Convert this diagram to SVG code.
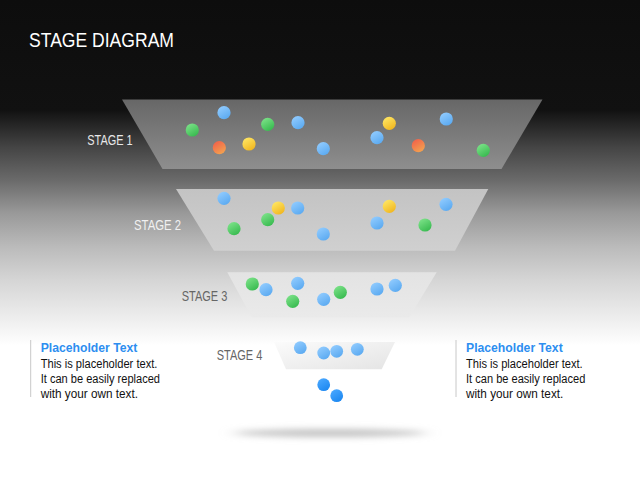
<svg xmlns="http://www.w3.org/2000/svg" width="640" height="480" viewBox="0 0 640 480">
<defs>
<linearGradient id="bg" x1="0" y1="0" x2="0" y2="480" gradientUnits="userSpaceOnUse">
<stop offset="0" stop-color="#0d0d0d"/>
<stop offset="0.229" stop-color="#111111"/>
<stop offset="0.306" stop-color="#444444"/>
<stop offset="0.375" stop-color="#6a6a6a"/>
<stop offset="0.444" stop-color="#999999"/>
<stop offset="0.515" stop-color="#bbbbbb"/>
<stop offset="0.583" stop-color="#d5d5d5"/>
<stop offset="0.652" stop-color="#eaeaea"/>
<stop offset="0.72" stop-color="#ffffff"/>
<stop offset="1" stop-color="#ffffff"/>
</linearGradient>
<linearGradient id="s1" x1="0" y1="0" x2="0" y2="1"><stop offset="0" stop-color="#676767"/><stop offset="1" stop-color="#8e8e8e"/></linearGradient>
<linearGradient id="s2" x1="0" y1="0" x2="0" y2="1"><stop offset="0" stop-color="#c3c3c3"/><stop offset="1" stop-color="#d0d0d0"/></linearGradient>
<linearGradient id="s3" x1="0" y1="0" x2="0" y2="1"><stop offset="0" stop-color="#e3e3e3"/><stop offset="1" stop-color="#eaeaea"/></linearGradient>
<linearGradient id="s4" x1="0" y1="0" x2="1" y2="1"><stop offset="0" stop-color="#fbfbfb"/><stop offset="1" stop-color="#e4e4e4"/></linearGradient>
<linearGradient id="gb" x1="0.2" y1="0" x2="0.8" y2="1"><stop offset="0" stop-color="#92ccff"/><stop offset="1" stop-color="#58a8f0"/></linearGradient>
<linearGradient id="gg" x1="0.2" y1="0" x2="0.8" y2="1"><stop offset="0" stop-color="#7ee38a"/><stop offset="1" stop-color="#34b84c"/></linearGradient>
<linearGradient id="gy" x1="0.2" y1="0" x2="0.8" y2="1"><stop offset="0" stop-color="#ffe866"/><stop offset="1" stop-color="#f0b41c"/></linearGradient>
<linearGradient id="go" x1="0.2" y1="0" x2="0.8" y2="1"><stop offset="0" stop-color="#f2604a"/><stop offset="1" stop-color="#f2a650"/></linearGradient>
<linearGradient id="gd" x1="0.2" y1="0" x2="0.8" y2="1"><stop offset="0" stop-color="#4aa8ff"/><stop offset="1" stop-color="#1a86f0"/></linearGradient>
<filter id="blur" x="-30%" y="-300%" width="160%" height="700%"><feGaussianBlur stdDeviation="8 3"/></filter>
</defs>
<style>
.lbl{font-family:"Liberation Sans",Arial,sans-serif;font-size:14px}
.ttl{font-family:"Liberation Sans",Arial,sans-serif;font-size:20px;fill:#ffffff}
.hd{font-family:"Liberation Sans",Arial,sans-serif;font-size:13px;font-weight:bold;fill:#2d8ef0}
.bd{font-family:"Liberation Sans",Arial,sans-serif;font-size:12px;fill:#111111}
.b{fill:url(#gb)}
.g{fill:url(#gg)}
.y{fill:url(#gy)}
.o{fill:url(#go)}
.d{fill:url(#gd)}
.vl{stroke:#c8c8c8;stroke-width:1}
</style>
<rect x="0" y="0" width="640" height="480" fill="url(#bg)"/>
<text class="ttl" x="29" y="47" textLength="145" lengthAdjust="spacingAndGlyphs">STAGE DIAGRAM</text>

<ellipse cx="330" cy="433" rx="96" ry="4" fill="#c4c4c4" filter="url(#blur)"/>

<g id="stage1">
<polygon points="122,99.5 542.5,99.5 501.5,169 162.5,169" fill="url(#s1)"/>
<text class="lbl" x="87.3" y="145" fill="#e8e8e8" textLength="45.4" lengthAdjust="spacingAndGlyphs">STAGE 1</text>
<circle class="g" cx="192.3" cy="130" r="6.6"/>
<circle class="b" cx="224" cy="112.7" r="6.6"/>
<circle class="o" cx="219.3" cy="147.7" r="6.6"/>
<circle class="y" cx="249" cy="144" r="6.6"/>
<circle class="g" cx="267.7" cy="124.3" r="6.6"/>
<circle class="b" cx="298" cy="122.7" r="6.6"/>
<circle class="b" cx="323.3" cy="148.7" r="6.6"/>
<circle class="b" cx="377" cy="137.7" r="6.6"/>
<circle class="y" cx="389.3" cy="123.3" r="6.6"/>
<circle class="o" cx="418.3" cy="145.7" r="6.6"/>
<circle class="b" cx="446.3" cy="119" r="6.6"/>
<circle class="g" cx="483.3" cy="150.3" r="6.6"/>
</g>

<g id="stage2">
<polygon points="176,189 488.3,189 455,250.7 214,250.7" fill="url(#s2)"/>
<text class="lbl" x="134" y="229.5" fill="#f0f0f0" textLength="47" lengthAdjust="spacingAndGlyphs">STAGE 2</text>
<circle class="b" cx="224" cy="198.3" r="6.6"/>
<circle class="g" cx="234" cy="228.7" r="6.6"/>
<circle class="g" cx="267.7" cy="219.7" r="6.6"/>
<circle class="y" cx="278.3" cy="208" r="6.6"/>
<circle class="b" cx="297.7" cy="208" r="6.6"/>
<circle class="b" cx="323.3" cy="234" r="6.6"/>
<circle class="b" cx="377" cy="223" r="6.6"/>
<circle class="y" cx="389.3" cy="206.3" r="6.6"/>
<circle class="g" cx="425" cy="225" r="6.6"/>
<circle class="b" cx="446" cy="204.3" r="6.6"/>
</g>

<g id="stage3">
<polygon points="227.3,272.3 436.7,272.3 409.3,317.3 251.7,317.3" fill="url(#s3)"/>
<text class="lbl" x="181.7" y="300.7" fill="#666666" textLength="45.6" lengthAdjust="spacingAndGlyphs">STAGE 3</text>
<circle class="g" cx="252.3" cy="284" r="6.6"/>
<circle class="b" cx="266" cy="289.7" r="6.6"/>
<circle class="b" cx="297.7" cy="283.3" r="6.6"/>
<circle class="g" cx="292.7" cy="301.3" r="6.6"/>
<circle class="b" cx="323.7" cy="299.3" r="6.6"/>
<circle class="g" cx="340.3" cy="292.3" r="6.6"/>
<circle class="b" cx="377" cy="289" r="6.6"/>
<circle class="b" cx="395.3" cy="285.3" r="6.6"/>
</g>

<g id="stage4">
<polygon points="274,342 395,342 381.7,369.3 286,369.3" fill="url(#s4)"/>
<text class="lbl" x="216.7" y="360" fill="#666666" textLength="45.6" lengthAdjust="spacingAndGlyphs">STAGE 4</text>
<circle class="b" cx="300.3" cy="347.7" r="6.4"/>
<circle class="b" cx="323.7" cy="353" r="6.4"/>
<circle class="b" cx="336.7" cy="351.3" r="6.4"/>
<circle class="b" cx="357.3" cy="349.3" r="6.4"/>
</g>

<g id="output">
<circle class="d" cx="323.7" cy="384.7" r="6.4"/>
<circle class="d" cx="336.7" cy="395.7" r="6.4"/>
</g>

<g id="textLeft">
<line class="vl" x1="30.7" y1="340" x2="30.7" y2="397"/>
<text class="hd" x="40.7" y="352" textLength="96.7" lengthAdjust="spacingAndGlyphs">Placeholder Text</text>
<text class="bd" x="40.7" y="368" textLength="116.7" lengthAdjust="spacingAndGlyphs">This is placeholder text.</text>
<text class="bd" x="40.7" y="383" textLength="119.3" lengthAdjust="spacingAndGlyphs">It can be easily replaced</text>
<text class="bd" x="40.7" y="397.5" textLength="97.3" lengthAdjust="spacingAndGlyphs">with your own text.</text>
</g>

<g id="textRight">
<line class="vl" x1="456" y1="340" x2="456" y2="397"/>
<text class="hd" x="466" y="352" textLength="96.7" lengthAdjust="spacingAndGlyphs">Placeholder Text</text>
<text class="bd" x="466" y="368" textLength="116.7" lengthAdjust="spacingAndGlyphs">This is placeholder text.</text>
<text class="bd" x="466" y="383" textLength="119.3" lengthAdjust="spacingAndGlyphs">It can be easily replaced</text>
<text class="bd" x="466" y="397.5" textLength="97.3" lengthAdjust="spacingAndGlyphs">with your own text.</text>
</g>
</svg>
